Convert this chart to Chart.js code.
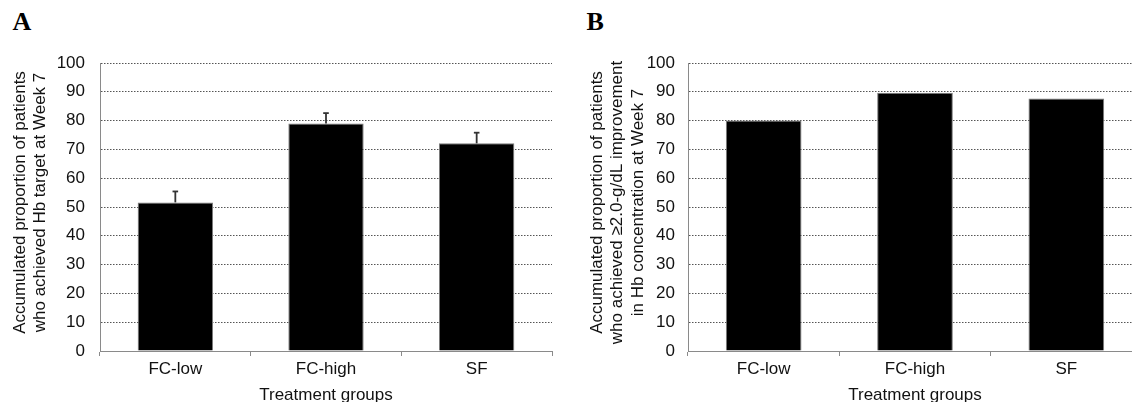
<!DOCTYPE html>
<html>
<head>
<meta charset="utf-8">
<script src="https://cdn.jsdelivr.net/npm/chart.js@4/dist/chart.umd.min.js"></script>
<style>
  html, body { margin: 0; padding: 0; background: #fff; width: 1132px; height: 402px; overflow: hidden; position: relative; }
  canvas { position: absolute; top: 0; }
  .panel { position: absolute; font-family: "Liberation Serif", "Times New Roman", serif; font-weight: bold; font-size: 26px; line-height: 26px; color: #000; }
</style>
</head>
<body>
<div class="panel" style="left:12.5px; top:8.5px;">A</div>
<div class="panel" style="left:586.5px; top:8.5px;">B</div>
<canvas id="chartA" width="566" height="406" style="left:0px;"></canvas>
<canvas id="chartB" width="578" height="406" style="left:578px;"></canvas>
<script>
const categories = ["FC-low", "FC-high", "SF"];
const valuesA = [51.6, 79.0, 72.1];
const errorsA = [3.8, 3.6, 3.7];
const valuesB = [80.0, 89.7, 87.7];
const xTitle = "Treatment groups";
const yTitleA = ["Accumulated proportion of patients", "who achieved Hb target at Week 7"];
const yTitleB = ["Accumulated proportion of patients", "who achieved \u22652.0-g/dL improvement", "in Hb concentration at Week 7"];
const yMin = 0, yMax = 100, yStep = 10;

const FONT = '"Liberation Sans", Arial, sans-serif';
const TEXT = '#111';
const AXIS = '#8a8a8a';

const errorBarPlugin = {
  id: 'errorBars',
  afterDatasetsDraw(chart, args, opts) {
    const errs = opts.errors;
    if (!errs) return;
    const meta = chart.getDatasetMeta(0);
    const ys = chart.scales.y;
    const vals = chart.data.datasets[0].data;
    const ctx = chart.ctx;
    ctx.save();
    ctx.strokeStyle = '#333';
    ctx.lineWidth = 1.8;
    meta.data.forEach((bar, i) => {
      const x = bar.x;
      const y0 = ys.getPixelForValue(vals[i]);
      const y1 = ys.getPixelForValue(vals[i] + errs[i]);
      ctx.beginPath();
      ctx.moveTo(x, y0);
      ctx.lineTo(x, y1);
      ctx.stroke();
      ctx.beginPath();
      ctx.moveTo(x - 2.8, y1);
      ctx.lineTo(x + 2.8, y1);
      ctx.stroke();
    });
    ctx.restore();
  }
};

// nudges only the centred y-axis title slightly upward, as in the reference
const titleShiftPlugin = {
  id: 'titleShift',
  beforeDraw(chart) {
    const s = chart.scales.y;
    if (s._titlePatched) return;
    const orig = s.drawTitle;
    s.drawTitle = function () {
      const t = this.top;
      this.top = t - 9;
      orig.call(this);
      this.top = t;
    };
    s._titlePatched = true;
  }
};

function makeChart(id, values, errors, yTitle, yWidth, tickPad, titlePad) {
  return new Chart(document.getElementById(id), {
    type: 'bar',
    data: {
      labels: categories,
      datasets: [{
        data: values,
        backgroundColor: '#000',
        borderColor: '#7a7a7a',
        borderWidth: 1,
        barPercentage: 1,
        categoryPercentage: 0.5
      }]
    },
    options: {
      responsive: false,
      animation: false,
      devicePixelRatio: 1,
      layout: { padding: { top: 63, right: 14, left: 0, bottom: 0 } },
      plugins: {
        legend: { display: false },
        tooltip: { enabled: false },
        errorBars: { errors: errors }
      },
      scales: {
        x: {
          grid: { display: true, offset: true, drawOnChartArea: false, drawTicks: true, tickLength: 5, tickColor: AXIS, tickWidth: 1 },
          border: { display: true, color: AXIS, width: 1 },
          ticks: { color: TEXT, font: { family: FONT, size: 17 }, padding: 3, maxRotation: 0 },
          title: { display: true, text: xTitle, color: TEXT, font: { family: FONT, size: 17 }, padding: { top: 0, bottom: 0 } },
          afterFit(scale) { scale.height = 55; }
        },
        y: {
          min: yMin, max: yMax,
          grid: {
            display: true, drawTicks: false, lineWidth: 1,
            color: (c) => (c.tick && c.tick.value === 0) ? 'rgba(0,0,0,0)' : '#555'
          },
          border: { display: true, color: AXIS, width: 1, dash: [1.5, 1.5] },
          ticks: { stepSize: yStep, color: TEXT, font: { family: FONT, size: 17 }, padding: tickPad },
          title: { display: true, text: yTitle, color: TEXT, font: { family: FONT, size: 17, lineHeight: 1.2 }, padding: { top: titlePad, bottom: 0 } },
          afterFit(scale) { scale.width = yWidth; }
        }
      }
    },
    plugins: [errorBarPlugin, titleShiftPlugin]
  });
}

makeChart('chartA', valuesA, errorsA, yTitleA, 100, 15, 10);
makeChart('chartB', valuesB, null, yTitleB, 110, 13, 9);
</script>
</body>
</html>
